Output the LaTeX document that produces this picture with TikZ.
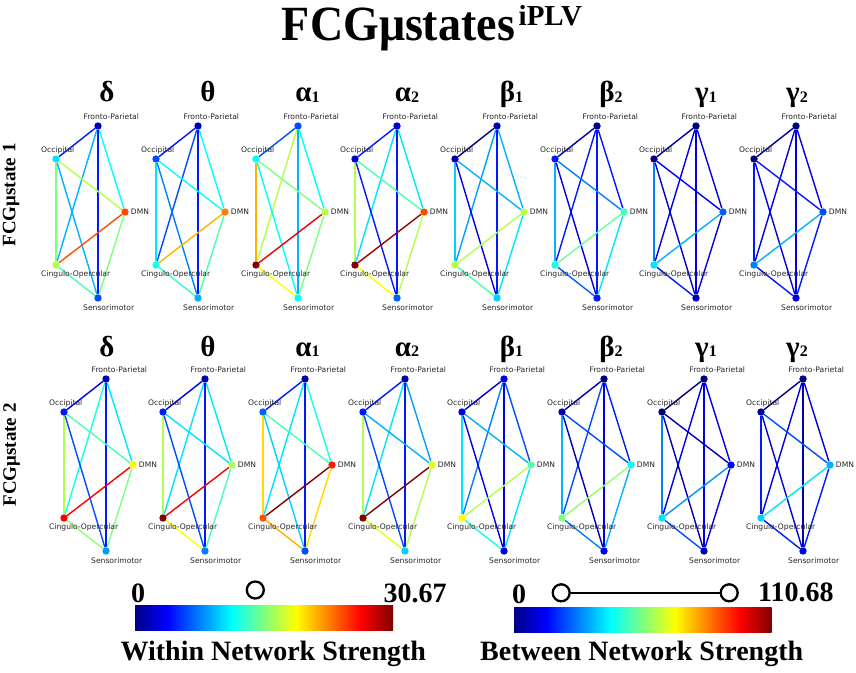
\documentclass[tikz,border=0pt]{standalone}
\usepackage{fontspec}
\setmainfont{Liberation Serif}
\newfontfamily\lblfont{DejaVu Sans}
\usetikzlibrary{calc}
\pgfdeclarelayer{back}
\pgfdeclarelayer{bg}
\pgfsetlayers{back,bg,main}
\pgfdeclarehorizontalshading{jetshade}{100bp}{rgb(0bp)=(0,0,0.53); rgb(25bp)=(0,0,0.53); rgb(31.25bp)=(0,0,1); rgb(43.75bp)=(0,1,1); rgb(56.25bp)=(1,1,0); rgb(68.75bp)=(1,0,0); rgb(75bp)=(0.5,0,0); rgb(100bp)=(0.5,0,0)}
\newcommand\setjet[2]{%
  \pgfmathsetmacro\jr{max(0,min(1,1.5-abs(0.04*#2-3)))}%
  \pgfmathsetmacro\jg{max(0,min(1,1.5-abs(0.04*#2-2)))}%
  \pgfmathsetmacro\jb{max(0,min(1,1.5-abs(0.04*#2-1)))}%
  \definecolor{#1}{rgb}{\jr,\jg,\jb}}
\tikzset{
  netdot/.style={circle, inner sep=0pt, minimum size=7.4pt},
  netedge/.style={line width=1.4pt},
  netlbl/.style={inner sep=0pt, font=\lblfont\fontsize{7.6}{7.6}\selectfont, text=black!85},
  bandlbl/.style={inner sep=0pt, anchor=base, font=\bfseries\fontsize{29}{29}\selectfont},
  sidelbl/.style={inner sep=0pt, rotate=90, font=\bfseries\fontsize{19}{19}\selectfont},
  numlbl/.style={inner sep=0pt, font=\bfseries\fontsize{28}{28}\selectfont},
  ring/.style={circle, draw=black, line width=2.3pt, minimum size=17pt, inner sep=0pt},
}
\newcommand\gsub[2]{#1{\fontsize{16}{16}\selectfont\raisebox{-0.8pt}{#2}}}
% #1 prefix, #2 x, #3 y, #4 node values (fp,oc,dm,co,sm), #5 edge values
\newcommand\fcpanel[5]{%
  \begin{scope}[shift={(#2,#3)}]
  \foreach \n/\dx/\dy [count=\i from 0] in {fp/0/0,oc/-42/33,dm/27/86,co/-42/139,sm/0/172}{%
    \pgfmathsetmacro\v{{#4}[\i]}%
    \setjet{nodec}{\v}%
    \node[netdot,fill=nodec] (#1\n) at (\dx,\dy) {};
  }
  \end{scope}
  \node[netlbl,anchor=base west] (#1lfp) at ($(#1fp)+(-14.5,-6.5)$) {Fronto-Parietal};
  \node[netlbl,anchor=base west] (#1loc) at ($(#1oc)+(-15,-6.5)$) {Occipital};
  \node[netlbl,anchor=west] (#1ldm) at ($(#1dm)+(5.7,0)$) {DMN};
  \node[netlbl,anchor=base west] (#1lco) at ($(#1co)+(-15,11.5)$) {Cingulo-Opercular};
  \node[netlbl,anchor=base west] (#1lsm) at ($(#1sm)+(-15,12.3)$) {Sensorimotor};
  \begin{pgfonlayer}{bg}
  \foreach \a/\b [count=\i from 0] in {fp/oc,fp/dm,fp/co,fp/sm,oc/dm,oc/co,oc/sm,dm/co,dm/sm,co/sm}{%
    \pgfmathsetmacro\v{{#5}[\i]}%
    \setjet{edgec}{\v}%
    \draw[netedge,draw=edgec] (#1\a) -- (#1\b);
  }
  \end{pgfonlayer}
}
\begin{document}
\begin{tikzpicture}[x=1pt,y=-1pt]
\useasboundingbox (0,0) rectangle (856,672);
\begin{pgfonlayer}{back}
\fill[white] (0,0) rectangle (856,672);
\end{pgfonlayer}
% title
\node[inner sep=0pt, anchor=base west, font=\bfseries\fontsize{46}{46}\selectfont] (title) at (281.7,40) {\scalebox{1}[1.07]{FCGμstates}};
\node[inner sep=0pt, anchor=base west, font=\bfseries\fontsize{29}{29}\selectfont] (titlesup) at (518.5,25) {iPLV};
% side labels
\node[sidelbl] (state1) at (11,195) {FCGμstate 1};
\node[sidelbl] (state2) at (11.5,455) {FCGμstate 2};
% band labels
\foreach \nm/\x/\t in {d/107/δ, t/208/θ, aa/307.5/\gsub{α}{1}, ab/407/\gsub{α}{2}, ba/511.5/\gsub{β}{1}, bb/611/\gsub{β}{2}, ga/706/\gsub{γ}{1}, gb/797/\gsub{γ}{2}}{
  \node[bandlbl] (r1\nm) at (\x,101.7) {\t};
  \node[bandlbl] (r2\nm) at (\x,356) {\t};
}
% row 1
\fcpanel{a1}{98}{126}{5,35,80,55,20}{15,37.5,30,15,55,50,30,80,50,45}
\fcpanel{a2}{198}{126}{5,20,75,40,30}{15,37.5,20,15,37.5,35,25,70,45,42}
\fcpanel{a3}{298}{126}{20,37.5,55,100,37.5}{20,37.5,55,30,50,70,37.5,90,50,62.5}
\fcpanel{a4}{397}{126}{8,8,80,100,22}{15,35,35,15,45,55,15,97,55,62.5}
\fcpanel{a5}{497}{126}{5,4,55,55,33}{0,30,28,15,30,33,10,55,35,45}
\fcpanel{a6}{597}{126}{0,15,45,40,15}{5,15,15,15,25,30,10,48,35,22}
\fcpanel{a7}{696}{126}{0,0,22,35,5}{3,10,10,10,12,25,8,30,10,15}
\fcpanel{a8}{796}{126}{0,0,20,25,10}{3,10,10,10,15,15,10,30,15,15}
% row 2
\fcpanel{b1}{106}{379}{5,15,62.5,88,28}{10,35,40,15,45,55,20,88,50,52}
\fcpanel{b2}{205}{379}{5,15,55,100,25}{10,35,35,15,35,55,20,88,45,62.5}
\fcpanel{b3}{305}{379}{5,22,85,80,20}{15,40,35,15,45,66,33,100,66,70}
\fcpanel{b4}{405}{379}{5,15,60,100,33}{15,28,35,15,30,55,20,100,55,60}
\fcpanel{b5}{504}{379}{10,10,45,62.5,10}{8,20,25,10,30,35,10,55,35,40}
\fcpanel{b6}{604}{379}{0,5,37.5,50,10}{5,15,20,10,20,30,5,52,30,25}
\fcpanel{b7}{704}{379}{0,0,13,35,5}{0,10,10,10,5,25,5,27,10,20}
\fcpanel{b8}{803}{379}{0,3,30,33,10}{0,10,10,5,20,15,10,35,15,15}
% colour bars
\shade[shading=jetshade] (135,605) rectangle (393,630.7);
\shade[shading=jetshade] (514,607.7) rectangle (771.7,632.7);
\node[numlbl,anchor=base] (wzero) at (138,602.7) {0};
\node[numlbl,anchor=base west] (wmax) at (383.3,602) {30.67};
\node[ring] (wring) at (255.3,590) {};
\node[numlbl,anchor=base] (bzero) at (519,603.3) {0};
\node[numlbl,anchor=base west] (bmax) at (758,601.7) {110.68};
\node[ring] (bringa) at (561.2,592.8) {};
\node[ring] (bringb) at (729.2,592.8) {};
\draw[line width=2pt] (bringa) -- (bringb);
\node[numlbl,anchor=base] (wtitle) at (273.3,660) {Within Network Strength};
\node[numlbl,anchor=base] (btitle) at (641.7,660) {Between Network Strength};
\end{tikzpicture}
\end{document}
